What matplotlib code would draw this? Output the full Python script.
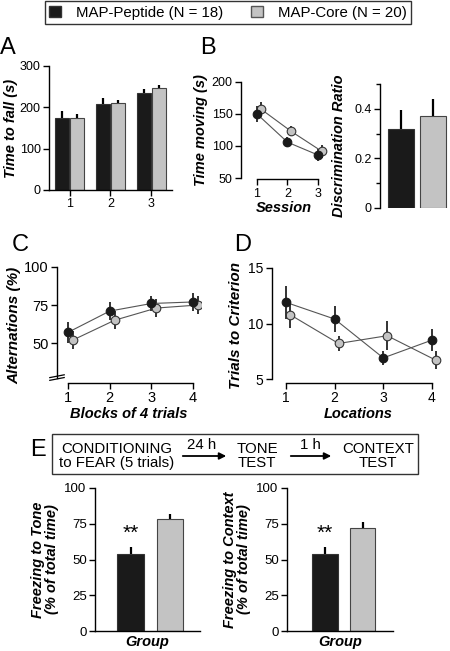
import numpy as np
import matplotlib
matplotlib.use('Agg')
import matplotlib.pyplot as plt
from matplotlib.patches import Patch, Rectangle, FancyArrowPatch

plt.rcParams['font.family'] = ['Liberation Sans', 'DejaVu Sans']
plt.rcParams['axes.linewidth'] = 1.0
plt.rcParams['xtick.labelsize'] = 8.5
plt.rcParams['ytick.labelsize'] = 8.5

W, H = 450, 651
BLACK = '#1a1a1a'
GRAY = '#c3c3c3'
LINE = '#555555'

# ---- data ----
groups = ['MAP-Peptide (N = 18)', 'MAP-Core (N = 20)']

rotarod_trial = [1, 2, 3]
rotarod_pep = [175, 207, 235]
rotarod_pep_err = [15, 15, 10]
rotarod_core = [174, 210, 246]
rotarod_core_err = [10, 8, 8]

session = [1, 2, 3]
moving_pep = [150, 106, 86]
moving_pep_err = [13, 8, 9]
moving_core = [158, 123, 92]
moving_core_err = [10, 8, 10]

discr = [0.32, 0.37]
discr_err = [0.075, 0.07]

blocks = [1, 2, 3, 4]
alt_pep = [57, 71, 76, 77]
alt_pep_err = [7, 6, 5, 6]
alt_core = [52, 65, 73, 75]
alt_core_err = [6, 6, 6, 6]

locations = [1, 2, 3, 4]
crit_pep = [11.9, 10.4, 6.9, 8.5]
crit_pep_err = [1.5, 1.2, 0.6, 1.0]
crit_core = [10.8, 8.2, 8.9, 6.7]
crit_core_err = [1.2, 0.7, 1.3, 0.8]

tone = [54, 78]
tone_err = [5, 4]
context = [54, 72]
context_err = [5, 4]


def px_axes(fig, left, top, right, bottom):
    return fig.add_axes([left / W, 1 - bottom / H, (right - left) / W, (bottom - top) / H])


def style(ax, size=8.5):
    for s in ['top', 'right']:
        ax.spines[s].set_visible(False)
    ax.tick_params(direction='out', length=4, width=1, pad=2, labelsize=size)


def lab(size=10):
    return dict(fontsize=size, fontweight='bold', fontstyle='italic')


def points(ax, xs, ys, errs, face, edge, z):
    ax.errorbar(xs, ys, yerr=errs, color=LINE, lw=0.8, marker='o', ms=6.2,
                mfc=face, mec=edge, mew=0.8, ecolor='#333333',
                elinewidth=1.4, capsize=0, zorder=z)


fig = plt.figure(figsize=(W / 100, H / 100), dpi=100)

# legend
handles = [Patch(facecolor=BLACK, edgecolor='#333333', label=groups[0]),
           Patch(facecolor=GRAY, edgecolor='#555555', label=groups[1])]
leg = fig.legend(handles=handles, loc='center', bbox_to_anchor=(228 / W, 1 - 12.5 / H),
                 ncol=2, frameon=True, fancybox=False, fontsize=10.8, handlelength=0.8,
                 handleheight=0.8, columnspacing=1.8, handletextpad=1.0,
                 borderpad=0.3, edgecolor='black')
leg.get_frame().set_linewidth(1.0)

# ---- A ----
ax = px_axes(fig, 49, 66, 172, 190)
x = np.array(rotarod_trial)
ax.bar(x - 0.18, rotarod_pep, 0.34, color=BLACK, edgecolor='#333333', lw=0.8,
       yerr=[np.zeros(3), rotarod_pep_err], error_kw=dict(ecolor='black', elinewidth=1.6, capsize=0))
ax.bar(x + 0.18, rotarod_core, 0.34, color=GRAY, edgecolor='#444444', lw=0.8,
       yerr=[np.zeros(3), rotarod_core_err], error_kw=dict(ecolor='black', elinewidth=1.6, capsize=0))
ax.set_xlim(0.5, 3.5)
ax.set_ylim(0, 300)
ax.set_xticks(rotarod_trial)
ax.set_yticks([0, 100, 200, 300])
style(ax, 9)
ax.set_ylabel('Time to fall (s)', labelpad=1, **lab(10.5))

# ---- B left ----
ax = px_axes(fig, 241, 82, 327, 178)
points(ax, np.array(session) + 0.12, moving_core, moving_core_err, GRAY, '#333333', 2)
points(ax, session, moving_pep, moving_pep_err, BLACK, BLACK, 3)
ax.set_xlim(0.475, 3.3)
ax.set_ylim(50, 200)
ax.set_xticks(session)
ax.set_yticks([50, 100, 150, 200])
style(ax, 9)
ax.spines['bottom'].set_bounds(1, 3)
ax.spines['bottom'].set_position(('outward', 1))
ax.set_ylabel('Time moving (s)', labelpad=3, **lab(10.5))
ax.set_xlabel('Session', labelpad=1, **lab(10.5))

# ---- B right ----
ax = px_axes(fig, 380, 84, 450, 208)
ax.bar([0, 1], discr, 0.8, color=[BLACK, GRAY], edgecolor=['#333333', '#444444'], lw=0.8,
       yerr=[[0, 0], discr_err], error_kw=dict(ecolor='black', elinewidth=1.6, capsize=0))
ax.set_xlim(-0.646, 1.51)
ax.set_ylim(0, 0.5)
ax.set_yticks([0, 0.2, 0.4])
ax.set_yticklabels(['0', '0.2', '0.4'])
ax.set_yticks([0.1, 0.3, 0.5], minor=True)
style(ax, 9)
ax.tick_params(axis='y', which='minor', length=3, width=1, direction='out')
ax.spines['bottom'].set_visible(False)
ax.set_xticks([])
ax.set_ylabel('Discrimination Ratio', labelpad=6, **lab(10.5))

# ---- C ----
ax = px_axes(fig, 57, 267, 201, 383)
points(ax, np.array(blocks) + 0.12, alt_core, alt_core_err, GRAY, '#333333', 2)
points(ax, blocks, alt_pep, alt_pep_err, BLACK, BLACK, 3)
ax.set_xlim(0.736, 4.19)
ax.set_ylim(23.7, 100)
ax.set_xticks(blocks)
ax.set_yticks([50, 75, 100])
style(ax, 10.5)
ax.spines['left'].set_bounds(27, 100)
ax.spines['bottom'].set_bounds(1, 4)
for dy in (0, 1.8):
    ax.plot([-0.05, 0.05], [0.035 + dy / 76.3 - 0.012, 0.035 + dy / 76.3 + 0.012],
            transform=ax.transAxes, color='black', lw=0.9, clip_on=False)
ax.set_ylabel('Alternations (%)', labelpad=2, **lab(11))
ax.set_xlabel('Blocks of 4 trials', labelpad=1, **lab(10.5))

# ---- D ----
ax = px_axes(fig, 272, 268, 444, 383)
points(ax, np.array(locations) + 0.08, crit_core, crit_core_err, GRAY, '#333333', 2)
points(ax, locations, crit_pep, crit_pep_err, BLACK, BLACK, 3)
ax.set_xlim(0.71, 4.25)
ax.set_ylim(4.64, 15)
ax.set_xticks(locations)
ax.set_yticks([5, 10, 15])
style(ax, 10)
ax.spines['left'].set_bounds(5, 15)
ax.spines['bottom'].set_bounds(1, 4)
ax.set_ylabel('Trials to Criterion', labelpad=4, **lab(11))
ax.set_xlabel('Locations', labelpad=1, **lab(10.5))

# ---- E schematic ----
fig.patches.append(Rectangle((52 / W, 1 - 474 / H), (418 - 52) / W, 40 / H,
                             transform=fig.transFigure, fill=False, ec='#333333', lw=1.0))
tk = dict(fontsize=10.8, ha='center', va='center', linespacing=1.0)
fig.text(117 / W, 1 - 456 / H, 'CONDITIONING\nto FEAR (5 trials)', **tk)
fig.text(257 / W, 1 - 456 / H, 'TONE\nTEST', **tk)
fig.text(378 / W, 1 - 456 / H, 'CONTEXT\nTEST', **tk)
fig.text(202 / W, 1 - 445 / H, '24 h', **tk)
fig.text(310 / W, 1 - 445 / H, '1 h', **tk)
for x0, x1 in [(180, 229), (288, 334)]:
    fig.patches.append(FancyArrowPatch((x0 / W, 1 - 456 / H), (x1 / W, 1 - 456 / H),
                                       transform=fig.transFigure, arrowstyle='-|>',
                                       mutation_scale=10, color='black', lw=1.3))

# ---- E bars ----
def freeze_panel(left, right, vals, errs, xl, ylab):
    ax = px_axes(fig, left, 488, right, 631)
    ax.bar([0, 1], vals, 0.68, color=[BLACK, GRAY], edgecolor=['#333333', '#444444'], lw=0.8,
           yerr=[[0, 0], errs], error_kw=dict(ecolor='black', elinewidth=1.6, capsize=0))
    ax.set_xlim(*xl)
    ax.set_ylim(0, 100)
    ax.set_yticks([0, 25, 50, 75, 100])
    ax.set_xticks([])
    style(ax, 9.5)
    ax.text(0, vals[0] + errs[0] + 3, '**', ha='center', va='bottom', fontsize=15)
    ax.set_ylabel(ylab, labelpad=4, linespacing=1.0, **lab(10.5))
    ax.set_xlabel('Group', labelpad=3, **lab(10.5))
    return ax

freeze_panel(95, 200, tone, tone_err, (-0.9, 1.76), 'Freezing to Tone\n(% of total time)')
freeze_panel(287, 393, context, context_err, (-1.01, 1.81), 'Freezing to Context\n(% of total time)')

# panel letters
for s, xx, yy in [('A', 8, 48), ('B', 208, 48), ('C', 20, 245), ('D', 243, 245), ('E', 38, 450)]:
    fig.text(xx / W, 1 - yy / H, s, fontsize=17, ha='center', va='center')

fig.savefig('out.png', dpi=100)
